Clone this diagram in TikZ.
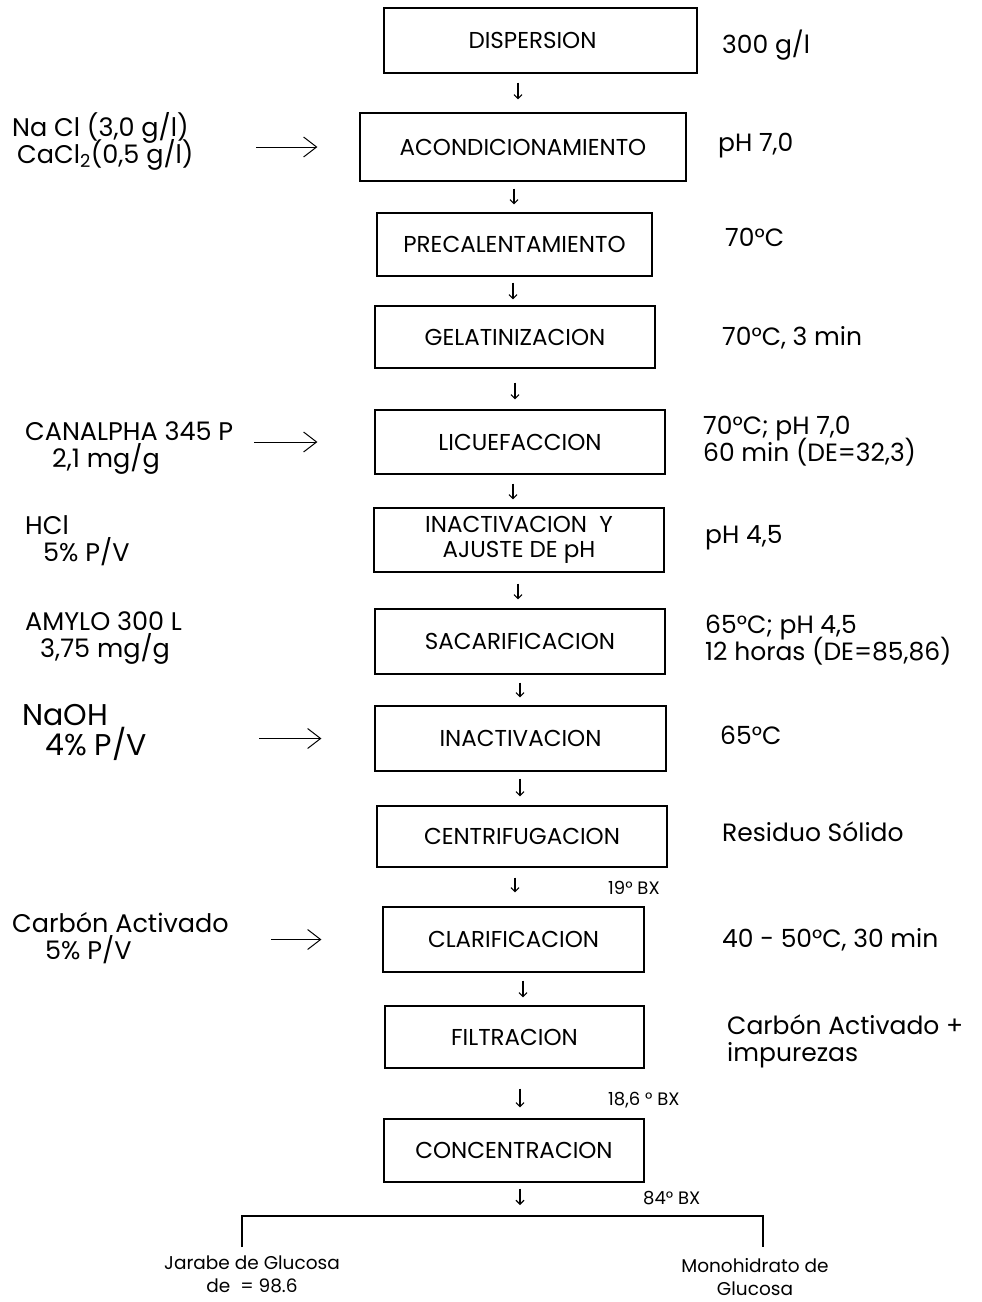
\documentclass[tikz,border=0pt]{standalone}
\usepackage{fontspec}
\setmainfont{Poppins}
\usetikzlibrary{arrows.meta,calc}
\newcommand\flowar[5]{%
  \path (#3,0) coordinate (tmpx);
  \draw[flowarrow, shorten <=#4pt, shorten >=#5pt] (#1.south -| tmpx) -- (#2.north -| tmpx);}
\newcommand\tightlines{\lineskiplimit=-100pt\lineskip=0pt}
\begin{document}
\begin{tikzpicture}[x=1pt,y=-1pt,
  stepbox/.style={draw, line width=1.2pt, inner sep=0pt, align=center,
    font=\fontsize{23}{25}\selectfont\tightlines},
  righttext/.style={anchor=west, align=left, inner sep=0pt, font=\fontsize{25}{27}\selectfont\tightlines},
  lefttext/.style={anchor=west, align=left, inner sep=0pt, font=\fontsize{25.5}{27}\selectfont\tightlines},
  bxtext/.style={anchor=west, inner sep=0pt, font=\fontsize{18}{18}\selectfont},
  flowarrow/.style={line width=1.1pt, -{Straight Barb[length=4pt,width=8pt,line width=1.1pt]}},
  feedarrow/.style={line width=1pt, -{Straight Barb[length=13pt,width=20pt,line width=1pt]}},
  bracket/.style={line width=1.3pt},
  endtext/.style={align=center, inner sep=0pt, font=\fontsize{18.5}{23}\selectfont\tightlines}]
\useasboundingbox (0,0) rectangle (982,1302);

% process boxes
\node[stepbox, minimum width=313pt, minimum height=65pt] (b1) at (540.5,40.5) {\hspace*{-16pt}DISPERSION};
\node[stepbox, minimum width=326pt, minimum height=68pt] (b2) at (523,147) {ACONDICIONAMIENTO};
\node[stepbox, minimum width=275pt, minimum height=63pt] (b3) at (514.5,244.5) {PRECALENTAMIENTO};
\node[stepbox, minimum width=280pt, minimum height=62pt] (b4) at (515,337) {GELATINIZACION};
\node[stepbox, minimum width=290pt, minimum height=64pt] (b5) at (520,442) {LICUEFACCION};
\node[stepbox, minimum width=290pt, minimum height=64pt] (b6) at (519,540) {INACTIVACION\ \ Y\\AJUSTE DE pH};
\node[stepbox, minimum width=290pt, minimum height=65pt] (b7) at (520,641.5) {SACARIFICACION};
\node[stepbox, minimum width=291pt, minimum height=65pt] (b8) at (520.5,738.5) {INACTIVACION};
\node[stepbox, minimum width=290pt, minimum height=61pt] (b9) at (522,836.5) {CENTRIFUGACION};
\node[stepbox, minimum width=261pt, minimum height=65pt] (b10) at (513.5,939.5) {CLARIFICACION};
\node[stepbox, minimum width=259pt, minimum height=62pt] (b11) at (514.5,1037) {FILTRACION};
\node[stepbox, minimum width=260pt, minimum height=63pt] (b12) at (514,1150.5) {CONCENTRACION};

% flow arrows
\flowar{b1}{b2}{518}{9}{13}
\flowar{b2}{b3}{514}{7}{8}
\flowar{b3}{b4}{513}{6}{6}
\flowar{b4}{b5}{515}{14}{10}
\flowar{b5}{b6}{513}{9}{8}
\flowar{b6}{b7}{518}{11}{9}
\flowar{b7}{b8}{520}{8}{8}
\flowar{b8}{b9}{520}{7}{9}
\flowar{b9}{b10}{515}{10}{14}
\flowar{b10}{b11}{523}{8}{8}
\flowar{b11}{b12}{520}{20}{11}

% split bracket
\coordinate (split) at (520,1216);
\coordinate (brL) at (242,1216);
\coordinate (brR) at (763,1216);
\path (520,0) coordinate (sx);
\draw[flowarrow, shorten <=6pt, shorten >=11pt] (b12.south -| sx) -- (split);
\draw[bracket] ([yshift=-31pt]brL) -- (brL) -- (brR) -- ([yshift=-31pt]brR);
\node[endtext] (jar) at (252,1274) {Jarabe de Glucosa\\de\ \ = 98.6};
\node[endtext] (mono) at (755,1277) {Monohidrato de\\Glucosa};

% right-hand conditions
\node[righttext] (r1) at (722,45) {300 g/l};
\node[righttext] (r2) at (718,146) {pH 7,0};
\node[righttext] (r3) at (725,237) {70°C};
\node[righttext] (r4) at (722,338) {70°C, 3 min};
\node[righttext] (r5) at (703,441) {70°C; pH 7,0\\60 min (DE=32,3)};
\node[righttext] (r6) at (705,538) {pH 4,5};
\node[righttext] (r7) at (705,640) {65°C; pH 4,5\\12 horas (DE=85,86)};
\node[righttext] (r8) at (720,735) {65°C};
\node[righttext] (r9) at (722,832) {Residuo Sólido};
\node[righttext] (r10) at (722,940) {40 - 50°C, 30 min};
\node[righttext] (r11) at (727,1041) {Carbón Activado +\\impurezas};

% Brix labels
\node[bxtext] (bx1) at (608,888) {19° BX};
\node[bxtext] (bx2) at (608,1100) {18,6 ° BX};
\node[bxtext] (bx3) at (643,1198) {84° BX};

% left-hand inputs
\node[lefttext] (l1) at (12,141) {Na Cl (3,0 g/l)\\\hspace*{5pt}CaCl\textsubscript{2}(0,5 g/l)};
\node[lefttext] (l2) at (25,448) {CANALPHA 345 P\\\hspace*{27pt}2,1 mg/g};
\node[lefttext] (l3) at (25,541) {HCl\\\hspace*{18pt}5\% P/V};
\node[lefttext] (l4) at (25,638) {AMYLO 300 L\\\hspace*{15pt}3,75 mg/g};
\node[lefttext, font=\fontsize{30}{30}\selectfont\tightlines] (l5) at (22,732) {NaOH\\\hspace*{23pt}4\% P/V};
\node[lefttext] (l6) at (12,938) {Carbón Activado\\\hspace*{33pt}5\% P/V};

% feed arrows
\draw[feedarrow] ([xshift=-103pt]b2.west) -- ([xshift=-42pt]b2.west);
\draw[feedarrow] ([xshift=-120pt]b5.west) -- ([xshift=-57pt]b5.west);
\draw[feedarrow] ([xshift=-115pt]b8.west) -- ([xshift=-53pt]b8.west);
\draw[feedarrow] ([xshift=-111pt]b10.west) -- ([xshift=-61pt]b10.west);
\end{tikzpicture}
\end{document}
